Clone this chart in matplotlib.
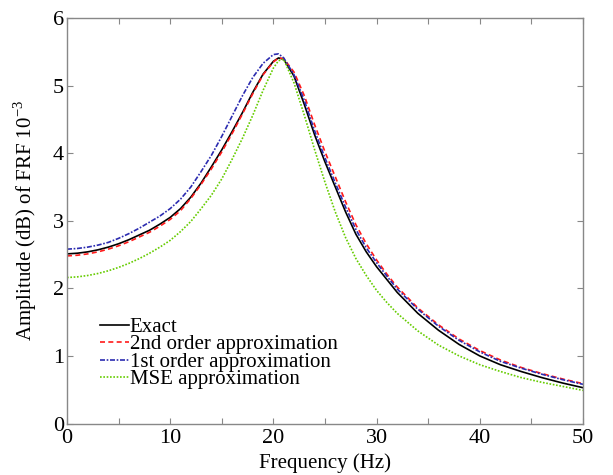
import numpy as np
import matplotlib
matplotlib.use('Agg')
import matplotlib.pyplot as plt

plt.rcParams['font.family'] = ['Liberation Serif', 'DejaVu Serif']
plt.rcParams['mathtext.fontset'] = 'custom'
plt.rcParams['mathtext.rm'] = 'Liberation Serif'

# frequency grid (Hz)
freq = [0, 1, 2, 3, 4, 5, 6, 7, 8, 9, 10, 11, 12, 13, 14, 15, 16, 17, 18, 19, 20, 20.5, 21,
        22, 23, 24, 25, 26, 27, 28, 29, 30, 31, 32, 34, 36, 38, 40, 42, 44, 46, 48, 50]

exact = [2.51, 2.52, 2.54, 2.57, 2.61, 2.66, 2.72, 2.79, 2.86, 2.95, 3.05, 3.18, 3.35, 3.56, 3.80,
         4.05, 4.32, 4.60, 4.90, 5.17, 5.36, 5.41, 5.39,
         5.14, 4.72, 4.27, 3.87, 3.50, 3.13, 2.80, 2.54, 2.32, 2.13, 1.94, 1.63, 1.38, 1.17, 1.00,
         0.87, 0.77, 0.68, 0.60, 0.53]
second = [2.48, 2.49, 2.51, 2.54, 2.58, 2.63, 2.69, 2.76, 2.83, 2.92, 3.02, 3.15, 3.33, 3.54, 3.77,
          4.02, 4.29, 4.58, 4.88, 5.16, 5.35, 5.41, 5.40,
          5.20, 4.85, 4.42, 4.02, 3.65, 3.28, 2.94, 2.66, 2.42, 2.21, 2.02, 1.71, 1.46, 1.25, 1.08,
          0.94, 0.83, 0.74, 0.66, 0.59]
first = [2.58, 2.59, 2.61, 2.64, 2.68, 2.74, 2.81, 2.89, 2.98, 3.07, 3.18, 3.32, 3.50, 3.73, 3.97,
         4.25, 4.55, 4.85, 5.12, 5.33, 5.46, 5.47, 5.41,
         5.16, 4.78, 4.33, 3.93, 3.56, 3.20, 2.87, 2.60, 2.38, 2.18, 1.99, 1.69, 1.44, 1.23, 1.06,
         0.92, 0.82, 0.73, 0.65, 0.58]
mse = [2.16, 2.17, 2.19, 2.22, 2.26, 2.31, 2.37, 2.44, 2.52, 2.61, 2.71, 2.84, 2.99, 3.18, 3.38,
       3.62, 3.91, 4.22, 4.56, 4.93, 5.26, 5.37, 5.39,
       5.04, 4.56, 4.05, 3.57, 3.13, 2.75, 2.44, 2.19, 1.97, 1.79, 1.63, 1.37, 1.16, 1.00, 0.87,
       0.77, 0.68, 0.61, 0.55, 0.49]

xticks = [0, 5, 10, 15, 20, 25, 30, 35, 40, 45, 50]
xticklabels = ['0', '', '10', '', '20', '', '30', '', '40', '', '50']
yticks = [0, 1, 2, 3, 4, 5, 6]

fig = plt.figure(figsize=(6.13, 4.75), dpi=100)
ax = fig.add_axes([0.1093, 0.1084, 0.8417, 0.8536])

ax.plot(freq, exact, color='black', lw=1.2, label='Exact')
ax.plot(freq, second, color='#ff1a1a', lw=1.2, ls=(0, (3, 2)), label='2nd order approximation')
ax.plot(freq, first, color='#2b2bb0', lw=1.2, ls=(0, (3, 1, 1, 1)), label='1st order approximation')
ax.plot(freq, mse, color='#66cc00', lw=1.2, ls=(0, (1, 1)), label='MSE approximation')

ax.set_xlim(0, 50)
ax.set_ylim(0, 6)
ax.set_xticks(xticks)
ax.set_xticklabels(xticklabels)
ax.set_yticks(yticks)
ax.tick_params(direction='in', length=4, width=0.8, color='#888888',
               top=True, right=True, labelsize=16)
ax.tick_params(axis='x', pad=4)
ax.tick_params(axis='y', pad=2)
for s in ax.spines.values():
    s.set_color('#888888')
    s.set_linewidth(1.0)

ax.set_xlabel('Frequency (Hz)', fontsize=15, labelpad=4)
ax.set_ylabel('Amplitude (dB) of FRF 10$^{\\mathregular{-3}}$', fontsize=15, labelpad=10)

ax.legend(loc='upper left', bbox_to_anchor=(0.063, 0.262), frameon=False, fontsize=15,
          handlelength=1.4, handletextpad=0.05, labelspacing=-0.1, borderaxespad=0,
          borderpad=0)

fig.savefig('out.png', dpi=100)
